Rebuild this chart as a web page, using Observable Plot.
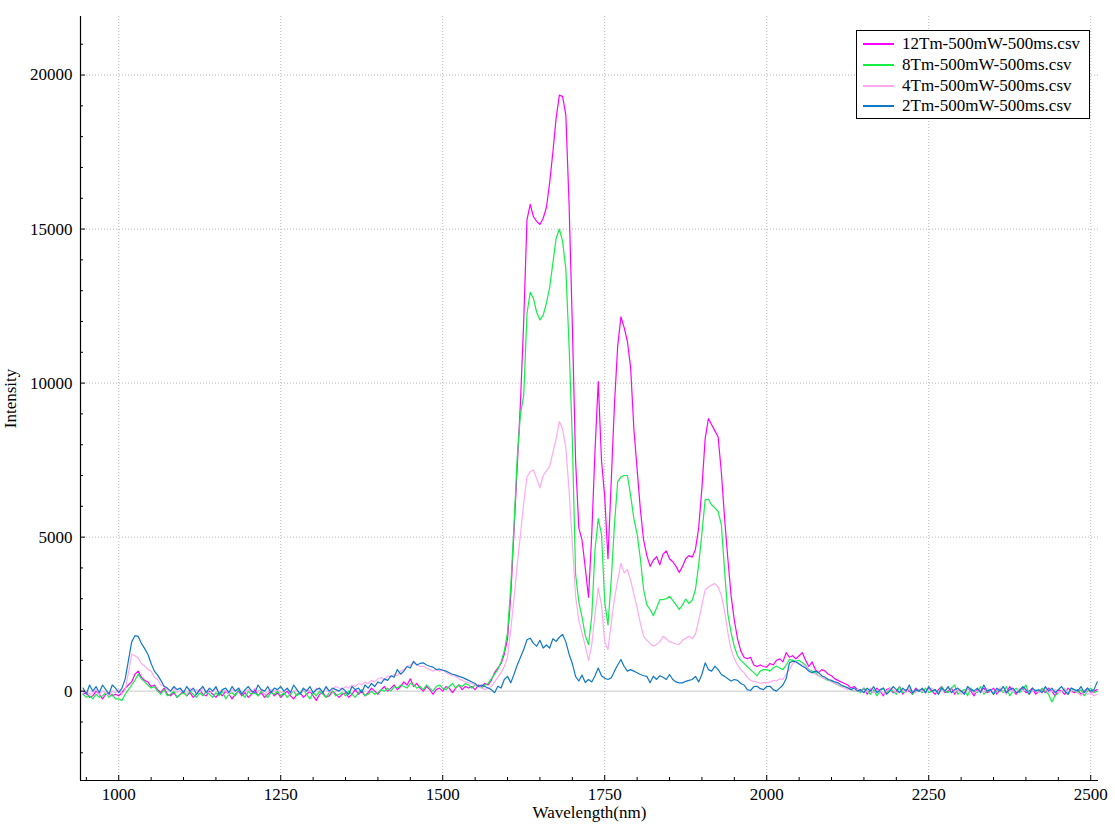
<!DOCTYPE html>
<html><head><meta charset="utf-8">
<script src="https://cdn.jsdelivr.net/npm/d3@7"></script>
<script src="https://cdn.jsdelivr.net/npm/@observablehq/plot@0.6"></script>
<style>
html,body{margin:0;padding:0;background:#fff;}
#wrap{position:relative;width:1115px;height:832px;font-family:"Liberation Serif",serif;color:#000;}
#legend{position:absolute;left:856px;top:30px;width:234px;height:89px;border:1px solid #000;background:#fff;box-sizing:border-box;}
.row{position:absolute;left:0;height:20px;line-height:20px;font-size:17px;white-space:nowrap;}
.row .ln{position:absolute;left:6px;top:9px;width:31px;height:2px;}
.row .tx{position:absolute;left:45px;top:0;}
</style></head>
<body>
<div id="wrap"><div id="chart"></div><div id="legend"></div></div>
<script>
const seriesNames = ["12Tm-500mW-500ms.csv","8Tm-500mW-500ms.csv","4Tm-500mW-500ms.csv","2Tm-500mW-500ms.csv"];
const seriesColors = ["#ff00ff","#14ee46","#ffaaee","#1078c8"];

const wavelength = [
945,950,955,960,965,970,975,980,985,990,995,1000,1005,1010,1015,1020,1025,1030,1035,1040,
1045,1050,1055,1060,1065,1070,1075,1080,1085,1090,1095,1100,1105,1110,1115,1120,1125,1130,1135,1140,
1145,1150,1155,1160,1165,1170,1175,1180,1185,1190,1195,1200,1205,1210,1215,1220,1225,1230,1235,1240,
1245,1250,1255,1260,1265,1270,1275,1280,1285,1290,1295,1300,1305,1310,1315,1320,1325,1330,1335,1340,
1345,1350,1355,1360,1365,1370,1375,1380,1385,1390,1395,1400,1405,1410,1415,1420,1425,1430,1435,1440,
1445,1450,1455,1460,1465,1470,1475,1480,1485,1490,1495,1500,1505,1510,1515,1520,1525,1530,1535,1540,
1545,1550,1555,1560,1565,1570,1575,1580,1585,1590,1595,1600,1605,1610,1615,1620,1625,1630,1635,1640,
1645,1650,1655,1660,1665,1670,1675,1680,1685,1690,1695,1700,1705,1710,1715,1720,1725,1730,1735,1740,
1745,1750,1755,1760,1765,1770,1775,1780,1785,1790,1795,1800,1805,1810,1815,1820,1825,1830,1835,1840,
1845,1850,1855,1860,1865,1870,1875,1880,1885,1890,1895,1900,1905,1910,1915,1920,1925,1930,1935,1940,
1945,1950,1955,1960,1965,1970,1975,1980,1985,1990,1995,2000,2005,2010,2015,2020,2025,2030,2035,2040,
2045,2050,2055,2060,2065,2070,2075,2080,2085,2090,2095,2100,2105,2110,2115,2120,2125,2130,2135,2140,
2145,2150,2155,2160,2165,2170,2175,2180,2185,2190,2195,2200,2205,2210,2215,2220,2225,2230,2235,2240,
2245,2250,2255,2260,2265,2270,2275,2280,2285,2290,2295,2300,2305,2310,2315,2320,2325,2330,2335,2340,
2345,2350,2355,2360,2365,2370,2375,2380,2385,2390,2395,2400,2405,2410,2415,2420,2425,2430,2435,2440,
2445,2450,2455,2460,2465,2470,2475,2480,2485,2490,2495,2500,2505,2510];

const tm12 = [
-100,-50,-200,-150,0,-100,-250,-100,-50,-150,-100,-150,-50,100,200,300,550,650,450,350,
300,150,200,50,-50,100,-100,-150,-50,-200,-100,0,-150,-50,-200,-100,50,-100,-150,0,
-100,-200,-50,-150,0,-100,-250,-100,0,-150,-50,-200,-100,50,-150,-50,-200,-100,0,-150,
-50,-200,-100,0,-150,-250,-100,-50,-200,-100,0,-150,-300,-100,-50,-200,-150,0,-100,-200,
-100,-50,-200,-100,50,-100,0,-150,-50,100,0,-100,50,150,0,100,200,50,150,300,
200,400,150,250,100,0,150,50,-100,50,100,0,150,100,-50,100,200,50,150,100,
150,50,200,150,250,200,350,600,750,900,1200,1700,3100,5200,7300,9400,12000,15300,15800,15400,
15250,15150,15350,15700,16500,17500,18600,19350,19300,18700,15800,11900,7500,5300,4900,4000,3050,5100,7800,10050,
7500,6300,4300,6800,9300,11200,12150,11800,11350,10500,8500,7200,5900,4900,4400,4050,4250,4370,4100,4450,
4550,4300,4200,4050,3850,4050,4300,4400,4350,4600,5300,6600,8200,8850,8650,8450,8250,7100,5600,4300,
3100,2300,1700,1300,1100,1050,1100,850,800,850,800,780,900,850,1000,1050,950,1250,1100,1150,
1050,1150,1250,1000,800,950,700,600,700,650,550,500,400,350,300,250,200,100,150,50,
0,100,-100,50,-50,100,0,-150,50,100,-50,0,150,-100,50,0,-100,100,0,50,
-50,100,0,-100,50,150,-50,0,100,-100,50,0,-50,100,0,-150,50,0,100,-50,
0,100,-100,50,0,-50,150,0,-100,50,100,-50,0,100,-100,0,50,-50,100,0,
-150,50,0,-100,100,0,-50,50,-100,0,100,-50,0,50];

const tm8 = [
-100,-200,-150,-250,-100,-200,-150,-50,-200,-100,-250,-250,-300,-100,50,200,350,550,400,300,
200,100,150,0,-100,50,-150,-100,0,-200,-100,-50,-150,0,-100,-200,-50,-150,0,-100,
-200,-50,-150,0,-250,-100,-50,-150,50,-100,-200,0,-100,-50,-150,0,-100,-200,-50,-100,
0,-150,-50,-200,-100,0,-150,-50,50,-100,-250,-50,-150,0,-100,-200,-50,0,-150,-100,
-50,-150,0,-100,-200,-50,50,-150,-100,0,-100,-50,50,0,100,0,150,100,200,150,
100,250,200,100,150,50,200,100,0,150,200,100,50,150,250,100,200,150,250,200,
100,200,150,100,200,250,400,550,700,950,1300,1900,3400,5400,7600,9000,9600,12250,12950,12750,
12300,12050,12200,12600,13100,13900,14700,15000,14600,13700,11200,8200,3800,2900,2400,1800,1510,2430,4590,5600,
5100,2900,2150,3600,5400,6800,6950,7000,7000,6350,5600,5100,4300,3300,2800,2650,2450,2700,2970,2970,
3000,3080,2950,2800,2650,2800,2990,2850,2950,3300,4100,5130,6210,6230,6050,5950,5830,5400,3900,2500,
1900,1450,1150,1000,900,800,700,600,500,650,700,700,650,750,810,750,700,850,1030,1000,
970,1000,920,850,700,650,600,500,450,400,350,320,250,200,150,160,100,50,0,50,
-50,100,0,-100,50,-150,0,100,-50,50,0,-100,150,-50,0,100,-100,0,50,-50,
100,-50,0,50,-100,150,0,-50,100,200,-100,0,50,-150,100,0,-50,150,-100,0,
50,-100,0,100,-50,150,-150,0,100,-50,50,200,-100,0,50,-50,100,0,-100,-350,
-150,-50,0,50,-100,100,0,-50,50,-150,0,100,-50,0];

const tm4 = [
-50,0,-100,-50,50,-100,0,-50,-150,0,-50,50,-100,50,600,1200,1150,1080,900,820,
700,650,450,380,200,160,50,0,100,-50,50,0,-100,100,0,50,-50,100,0,-50,
0,100,-50,50,0,-100,50,0,100,-50,0,50,-50,100,0,50,-100,0,50,0,
50,-50,0,100,-50,0,50,-100,0,50,0,-50,100,50,0,100,-50,50,150,100,
50,150,100,200,150,250,200,300,250,350,300,400,450,350,500,450,550,500,650,700,
800,850,920,850,800,810,750,700,650,700,650,700,600,550,500,485,400,350,300,270,
250,200,150,100,50,100,150,300,450,600,800,1100,2000,3000,4100,5100,6100,6950,7120,7180,
6900,6600,7000,7150,7290,7750,8200,8750,8500,7900,6500,4800,3100,2300,1900,1460,1000,1500,2500,3350,
2800,1600,1350,2200,3000,3600,4150,3830,3950,3600,3150,2700,2200,1780,1650,1550,1460,1520,1600,1780,
1700,1600,1570,1530,1520,1650,1720,1780,1700,1850,2300,2800,3290,3380,3450,3490,3380,3100,2600,1900,
1350,1050,850,700,600,450,350,320,300,250,280,260,300,350,330,400,380,550,700,900,
970,900,850,800,700,600,550,500,450,400,380,300,250,220,150,100,50,80,0,50,
50,-50,0,100,-50,0,50,-100,0,100,50,-50,0,50,-50,100,0,-50,50,0,
-50,50,100,0,-100,50,0,100,-50,0,50,-100,0,100,50,-50,0,50,-50,100,
0,-50,50,100,0,-100,50,0,-50,100,0,50,-100,0,50,-50,0,100,-50,0,
50,-50,0,100,-100,0,50,-50,-150,0,-100,-50,-150,-100];

const tm2 = [
100,-100,200,0,150,-50,200,50,-100,200,100,-50,100,400,1000,1600,1800,1780,1550,1380,
1200,900,650,520,350,160,100,0,150,50,100,-50,150,0,100,-100,50,150,-50,100,
0,150,-100,50,100,-50,150,0,100,-100,50,150,0,-50,200,50,0,150,-50,100,
50,150,0,100,-50,200,50,-100,100,0,150,-50,50,100,-50,150,0,100,50,0,
100,0,-100,150,50,100,-50,200,100,250,150,300,250,400,350,500,450,700,550,650,
800,750,970,850,900,920,850,810,780,700,720,680,650,600,550,520,480,450,400,350,
300,250,150,200,150,100,50,-50,160,100,380,480,270,550,850,1100,1350,1670,1720,1550,
1460,1650,1400,1500,1400,1700,1620,1750,1840,1600,1200,900,480,330,520,280,380,300,500,750,
500,420,380,430,650,850,1030,800,650,700,650,600,540,500,480,270,485,380,500,450,
380,540,380,300,270,270,320,350,380,480,300,550,920,700,650,810,700,540,480,400,
330,380,350,250,200,50,20,150,160,80,50,150,160,50,0,100,200,400,920,970,
950,880,810,750,650,600,650,600,500,450,380,350,300,270,200,150,110,50,100,0,
50,-50,100,0,150,-50,50,100,-100,0,150,50,-50,100,0,200,-50,50,0,100,
-50,150,0,50,-100,100,0,150,-50,50,100,0,-100,150,50,0,100,-50,200,0,
50,-100,100,0,150,-50,50,100,-50,0,150,50,-100,100,0,50,-50,150,0,100,
-50,50,150,0,-100,100,50,0,150,-50,100,0,50,300];

const xMajorTicks = [1000,1250,1500,1750,2000,2250,2500];
const xMinorTicks = [950,1050,1100,1150,1200,1300,1350,1400,1450,1550,1600,1650,1700,1800,1850,1900,1950,2050,2100,2150,2200,2300,2350,2400,2450];
const yMajorTicks = [0,5000,10000,15000,20000];
const yMinorTicks = [-2000,-1000,1000,2000,3000,4000,6000,7000,8000,9000,11000,12000,13000,14000,16000,17000,18000,19000,21000];
const xDomain = [941, 2512];
const yDomain = [-2900, 21900];
const xTitle = "Wavelength(nm)";
const yTitle = "Intensity";

const seriesValues = [tm12, tm8, tm4, tm2];
const rows = [];
seriesNames.forEach((name, i) => {
  wavelength.forEach((w, j) => rows.push({series: name, w, v: seriesValues[i][j]}));
});

const W = 1115, H = 832, mL = 80, mR = 17, mT = 16, mB = 52;
const pw = W - mL - mR, ph = H - mT - mB;
const gridStyle = {stroke: "#b8b8b8", strokeOpacity: 1, strokeDasharray: "1,2"};
const plain = d => String(d);

const plot = Plot.plot({
  width: W, height: H,
  marginLeft: mL, marginRight: mR, marginTop: mT, marginBottom: mB,
  style: {fontFamily: "Liberation Serif, serif", fontSize: "17px", color: "#000", background: "#fff"},
  x: {domain: xDomain},
  y: {domain: yDomain},
  marks: [
    Plot.gridX(xMajorTicks, gridStyle),
    Plot.gridY(yMajorTicks.filter(d => d !== 0), gridStyle),
    Plot.ruleY([0], {stroke: "#c8c8c8", strokeWidth: 1}),
    ...seriesNames.map((name, i) => Plot.line(rows.filter(r => r.series === name), {
      x: "w", y: "v", stroke: seriesColors[i], strokeWidth: 1.2
    })),
    Plot.ruleX([xDomain[0]], {stroke: "#000", strokeWidth: 1.2}),
    Plot.ruleY([yDomain[0]], {stroke: "#000", strokeWidth: 1.2}),
    Plot.tickX(xMajorTicks, {x: d => d, insetTop: ph - 5, stroke: "#000"}),
    Plot.tickX(xMinorTicks, {x: d => d, insetTop: ph - 3, stroke: "#000"}),
    Plot.tickY(yMajorTicks, {y: d => d, insetRight: pw - 5, stroke: "#000"}),
    Plot.tickY(yMinorTicks, {y: d => d, insetRight: pw - 3, stroke: "#000"}),
    Plot.axisX(xMajorTicks, {tickSize: 0, tickPadding: 7, label: null, fill: "#000", tickFormat: plain}),
    Plot.axisY(yMajorTicks, {tickSize: 0, tickPadding: 8, label: null, fill: "#000", tickFormat: plain}),
    Plot.text([xTitle], {frameAnchor: "bottom", dy: 32, text: d => d, fill: "#000", lineAnchor: "middle", textAnchor: "middle"}),
    Plot.text([yTitle], {frameAnchor: "left", dx: -70, rotate: -90, text: d => d, fill: "#000", lineAnchor: "middle", textAnchor: "middle"})
  ]
});
document.getElementById("chart").appendChild(plot);

const legend = document.getElementById("legend");
const rowTops = [3, 24, 45, 65];
seriesNames.forEach((name, i) => {
  const r = document.createElement("div");
  r.className = "row";
  r.style.top = rowTops[i] + "px";
  const ln = document.createElement("div");
  ln.className = "ln";
  ln.style.background = seriesColors[i];
  const tx = document.createElement("div");
  tx.className = "tx";
  tx.textContent = name;
  r.appendChild(ln); r.appendChild(tx);
  legend.appendChild(r);
});
</script>
</body></html>
